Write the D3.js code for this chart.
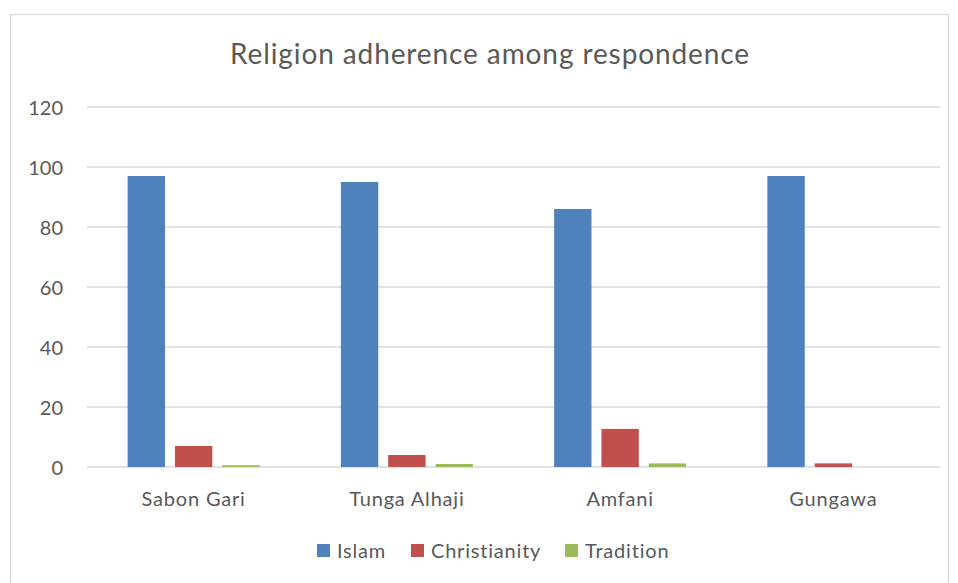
<!DOCTYPE html>
<html>
<head>
<meta charset="utf-8">
<script src="https://cdn.jsdelivr.net/npm/d3@7"></script>
<style>
  html, body { margin: 0; padding: 0; background: #fff; }
  svg { display: block; font-family: Lato, "Open Sans", sans-serif; }
</style>
</head>
<body>
<svg id="chart" width="958" height="583"></svg>
<script>
// Respondents by religion in each community (percent)
const categories = ["Sabon Gari", "Tunga Alhaji", "Amfani", "Gungawa"];
const seriesNames = ["Islam", "Christianity", "Tradition"];
const islam = [97, 95, 86, 97];
const christianity = [7, 4, 12.7, 1.2];
const tradition = [0.6, 1, 1.2, 0];
const yTicks = [0, 20, 40, 60, 80, 100, 120];
const colors = ["#4F81BD", "#C0504D", "#9BBB59"];

const values = [islam, christianity, tradition];
const rows = categories.map((c, i) => ({
  category: c,
  vals: seriesNames.map((s, j) => ({ key: s, value: values[j][i] }))
}));

const svg = d3.select("#chart");
const plot = { left: 87, right: 940, top: 107, bottom: 467 };
const textColor = "#595959";

// chart frame
svg.append("rect")
  .attr("x", 10.5).attr("y", 14.5)
  .attr("width", 938).attr("height", 600)
  .attr("fill", "#fff").attr("stroke", "#d9d9d9").attr("stroke-width", 1.3);

const x0 = d3.scaleBand().domain(categories).range([plot.left, plot.right]).padding(0);
const groupW = 132;
const x1 = d3.scaleBand().domain(seriesNames).range([0, groupW]).paddingInner(0.21);
const y = d3.scaleLinear().domain([0, 120]).range([plot.bottom, plot.top]);

// gridlines
svg.append("g")
  .selectAll("line").data(yTicks).join("line")
  .attr("x1", plot.left).attr("x2", plot.right)
  .attr("y1", d => y(d)).attr("y2", d => y(d))
  .attr("stroke", "#d9d9d9").attr("stroke-width", 1.3);

// y axis labels
const yAxis = d3.axisLeft(y).tickValues(yTicks).tickSize(0).tickPadding(0);
const yg = svg.append("g").attr("transform", `translate(63,0)`).call(yAxis);
yg.select(".domain").remove();
yg.selectAll("text")
  .attr("fill", textColor).attr("font-size", 20).attr("font-family", "Lato, sans-serif")
  .attr("dy", "0.35em");

// bars
const groups = svg.append("g").selectAll("g").data(rows).join("g")
  .attr("transform", d => `translate(${x0(d.category) + (x0.bandwidth() - groupW) / 2},0)`);
groups.selectAll("rect").data(d => d.vals).join("rect")
  .attr("x", d => x1(d.key))
  .attr("width", x1.bandwidth())
  .attr("y", d => y(d.value))
  .attr("height", d => y(0) - y(d.value))
  .attr("fill", (d, i) => colors[i]);

// x axis category labels
const xAxis = d3.axisBottom(x0).tickSize(0).tickPadding(0);
const xg = svg.append("g").attr("transform", `translate(0,${plot.bottom})`).call(xAxis);
xg.select(".domain").remove();
xg.selectAll("text")
  .attr("fill", textColor).attr("font-size", 20).attr("font-family", "Lato, sans-serif")
  .attr("letter-spacing", 0.8)
  .attr("y", 39).attr("dy", 0);

// title
svg.append("text")
  .attr("x", 490).attr("y", 64)
  .attr("text-anchor", "middle")
  .attr("fill", textColor).attr("font-size", 28).attr("letter-spacing", 0.9)
  .text("Religion adherence among respondence");

// legend
const legendX = [317, 411, 565];
const lg = svg.append("g").selectAll("g").data(seriesNames).join("g")
  .attr("transform", (d, i) => `translate(${legendX[i]},544)`);
lg.append("rect").attr("width", 13).attr("height", 13).attr("fill", (d, i) => colors[i]);
lg.append("text").attr("x", 20).attr("y", 14)
  .attr("fill", textColor).attr("font-size", 20).attr("letter-spacing", 0.8)
  .text(d => d);
</script>
</body>
</html>
